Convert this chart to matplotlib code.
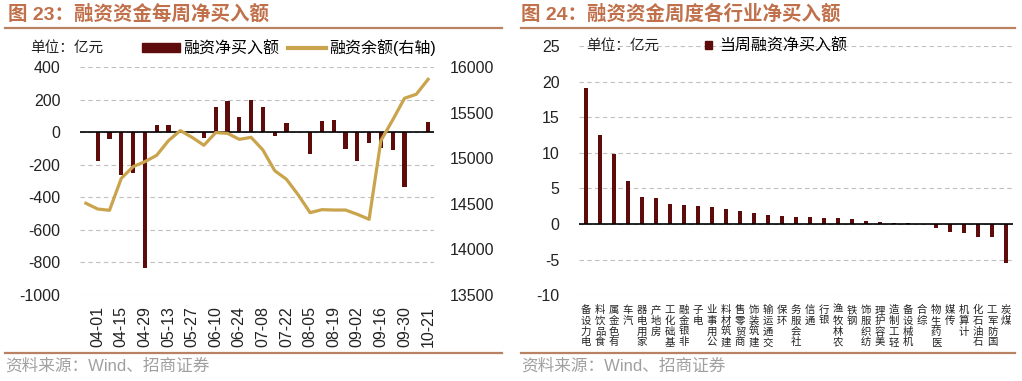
import numpy as np
import matplotlib.pyplot as plt
from matplotlib.lines import Line2D
from matplotlib.patches import Patch

plt.rcParams['font.family'] = ['Liberation Sans', 'Noto Sans CJK SC', 'DejaVu Sans']
plt.rcParams['axes.unicode_minus'] = False

# ---- data: weekly margin net buy (left chart)
weeks = ['03-25', '04-01', '04-08', '04-15', '04-22', '04-29', '05-06', '05-13',
         '05-20', '05-27', '06-03', '06-10', '06-17', '06-24', '07-01', '07-08',
         '07-15', '07-22', '07-29', '08-05', '08-12', '08-19', '08-26', '09-02',
         '09-09', '09-16', '09-23', '09-30', '10-14', '10-21']
net_buy = [np.nan, -177, -39, -260, -252, -835, 43, 43, 2, -2, -35, 157, 194, 93,
           198, 157, -25, 58, 1, -136, 72, 78, -105, -177, -66, -99, -111, -338,
           1, 66]
balance = [14507, 14444, 14430, 14781, 14909, 14964, 15034, 15195, 15305, 15231,
           15144, 15283, 15275, 15209, 15231, 15092, 14865, 14770, 14598, 14404,
           14437, 14433, 14433, 14386, 14331, 15195, 15422, 15660, 15704, 15868]

# ---- data: industry net buy this week (right chart)
industries = ['电力设备', '食品饮料', '有色金属', '汽车', '家用电器', '房地产', '基础化工',
              '非银金融', '电子', '公用事业', '建筑材料', '商贸零售', '建筑装饰', '交通运输',
              '环保', '社会服务', '通信', '银行', '农林牧渔', '钢铁', '纺织服饰', '美容护理',
              '轻工制造', '机械设备', '综合', '医药生物', '传媒', '计算机', '石油石化',
              '国防军工', '煤炭']
ind_buy = [19.1, 12.5, 9.8, 6.1, 3.85, 3.6, 2.75, 2.65, 2.5, 2.45, 2.15, 1.85, 1.6,
           1.3, 1.1, 1.05, 1.0, 0.84, 0.8, 0.66, 0.47, 0.33, 0.19, 0.09, -0.02, -0.6,
           -1.1, -1.2, -1.8, -1.85, -5.5]

bar_c = '#5E0B0B'
gold = '#C9A44C'
title_c = '#C0704A'
rule_c = '#B98363'
tick_c = '#222222'
fs = 11.5

W, H = 1022, 381
fig = plt.figure(figsize=(W / 100, H / 100), dpi=100)


def px_axes(x0, y0, x1, y1):
    return fig.add_axes([x0 / W, 1 - y1 / H, (x1 - x0) / W, (y1 - y0) / H])


def fy(y):
    return 1 - y / H


def style(ax):
    for s in ax.spines.values():
        s.set_visible(False)
    ax.tick_params(length=0, colors=tick_c, labelsize=fs)


# ---------------- left chart
ax1 = px_axes(80, 67.3, 434, 295)
x = np.arange(len(weeks))
ax1.bar(x, net_buy, width=0.36, color=bar_c, zorder=2)
ax1.axhline(0, color='black', lw=1.2, zorder=3)
ax1.set_xlim(-0.5, len(weeks) - 0.5)
ax1.set_ylim(-1000, 400)
ax1.set_yticks(range(-1000, 401, 200))
ax1.grid(axis='y', color='#BFBFBF', ls=(0, (4, 3)), lw=0.8)
ax1.set_axisbelow(True)
ax1.set_xticks(x[1::2])
ax1.set_xticklabels(weeks[1::2], rotation=90)
style(ax1)
ax1.tick_params(axis='y', pad=14)
ax1.tick_params(axis='x', pad=8)

ax1r = ax1.twinx()
ax1r.plot(x, balance, color=gold, lw=2.3)
ax1r.set_ylim(13500, 16000)
ax1r.set_yticks(range(13500, 16001, 500))
style(ax1r)
ax1r.tick_params(axis='y', pad=11)

fig.text(30 / W, fy(48), '单位：亿元', fontsize=10.5, va='center', color=tick_c)
fig.legend([Patch(color=bar_c), Line2D([], [], color=gold, lw=3)],
           ['融资净买入额', '融资余额(右轴)'], loc='center left',
           bbox_to_anchor=(142 / W, fy(48)), ncol=2, frameon=False, fontsize=11.5,
           handlelength=2.35, handleheight=0.5, handletextpad=0.2, columnspacing=0.6,
           borderpad=0, borderaxespad=0)

# ---------------- right chart
ax2 = px_axes(579, 46.1, 1013, 295.2)
xi = np.arange(len(industries))
ax2.bar(xi, ind_buy, width=0.33, color=bar_c, zorder=2)
ax2.axhline(0, color='black', lw=1.2, zorder=3)
ax2.set_xlim(-0.5, len(industries) - 0.5)
ax2.set_ylim(-10, 25)
ax2.set_yticks(range(-10, 26, 5))
ax2.grid(axis='y', color='#BFBFBF', ls=(0, (4, 3)), lw=0.8)
ax2.set_axisbelow(True)
ax2.set_xticks(xi)
ax2.set_xticklabels(['\n'.join(reversed(n)) for n in industries], fontsize=7.5,
                    linespacing=1.1, va='top', rotation=0)
style(ax2)
ax2.tick_params(axis='y', pad=14)
ax2.tick_params(axis='x', pad=7, labelsize=7.5)

fig.text(586 / W, fy(46), '单位：亿元', fontsize=10.5, va='center', color=tick_c)
fig.legend([Patch(color=bar_c)], ['当周融资净买入额'], loc='center left',
           bbox_to_anchor=(705 / W, fy(46)), frameon=False, fontsize=11.5,
           handlelength=0.45, handleheight=0.45, handletextpad=0.45,
           borderpad=0, borderaxespad=0)

# ---------------- titles, rules, sources
fig.text(8 / W, fy(14), '图 23：融资资金每周净买入额', fontsize=14, fontweight='bold',
         color=title_c, va='center')
fig.text(521 / W, fy(14), '图 24：融资资金周度各行业净买入额', fontsize=14,
         fontweight='bold', color=title_c, va='center')
for x0, x1 in [(5, 502), (521, 1015)]:
    fig.add_artist(Line2D([x0 / W, x1 / W], [fy(27.5)] * 2, color=rule_c, lw=1.6))
    fig.add_artist(Line2D([x0 / W, x1 / W], [fy(353)] * 2, color=rule_c, lw=1.6))
fig.text(5 / W, fy(366), '资料来源：Wind、招商证券', fontsize=12, color='#A0A0A0', va='center')
fig.text(521 / W, fy(366), '资料来源：Wind、招商证券', fontsize=12, color='#A0A0A0', va='center')

fig.savefig('out.png', dpi=100)
